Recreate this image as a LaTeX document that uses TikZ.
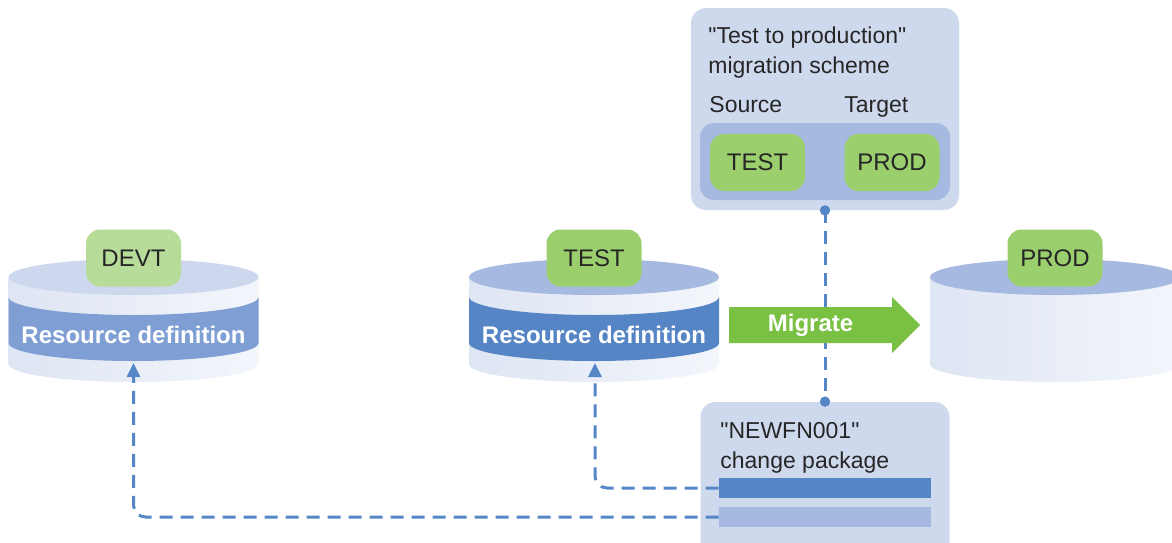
\documentclass[tikz,border=0pt]{standalone}
\usepackage{fontspec}
\setmainfont{Liberation Sans}[Ligatures=TeXOff]
\usetikzlibrary{arrows.meta}

\definecolor{panelblue}{HTML}{CFD9EE}
\definecolor{innerblue}{HTML}{A6B9E0}
\definecolor{linkblue}{HTML}{5587C6}
\definecolor{bandlight}{HTML}{7F9FD4}
\definecolor{banddark}{HTML}{5585C5}
\definecolor{toplight}{HTML}{CDD8EE}
\definecolor{tagdevt}{HTML}{B7DC99}
\definecolor{taggreen}{HTML}{9BCF6E}
\definecolor{migrategreen}{HTML}{79C043}
\definecolor{bodyleft}{HTML}{DEE5F3}
\definecolor{bodyright}{HTML}{F3F6FB}

% disk body: #1 centre x, #2 top colour
\newcommand\diskbody[2]{
  \shade[left color=bodyleft, right color=bodyright]
    (#1-125,-277) -- (#1-125,-364)
    arc[start angle=180, end angle=360, x radius=125, y radius=18]
    -- (#1+125,-277) -- cycle;
  \fill[#2] (#1,-277) ellipse [x radius=125, y radius=18];
}
% band of the disk: #1 centre x, #2 colour
\newcommand\diskband[2]{
  \fill[#2] (#1-125,-297)
    arc[start angle=180, end angle=360, x radius=125, y radius=18]
    -- (#1+125,-343)
    arc[start angle=0, end angle=-180, x radius=125, y radius=18]
    -- cycle;
}

\begin{document}
\begin{tikzpicture}[
    x=0.5pt, y=0.5pt,
    every node/.style={font=\fontsize{11.5}{15}\selectfont, text=black!85},
    panel/.style={fill=panelblue, rounded corners=7.5pt, inner sep=0pt},
    envtag/.style={fill=#1, rounded corners=7pt, minimum width=47.5pt,
                   minimum height=28.5pt, inner sep=0pt,
                   font=\fontsize{12}{15}\selectfont},
    envtag/.default=taggreen,
    bar/.style={fill=#1, minimum width=106pt, minimum height=10pt, inner sep=0pt},
    disklabel/.style={font=\fontsize{12}{15}\selectfont\bfseries, text=white},
    plain/.style={anchor=north west, inner sep=0pt, align=left},
    linkdash/.style={draw=linkblue, line width=1.5pt, dash pattern=on 6.5pt off 4pt},
    tip/.style={-{Triangle[length=7pt, width=6.5pt]}}
  ]
  \useasboundingbox (0,0) rectangle (1172,-542);

  % disks
  \diskbody{133.5}{toplight}
  \diskband{133.5}{bandlight}
  \diskbody{594}{innerblue}
  \diskband{594}{banddark}
  \diskbody{1055}{innerblue}

  \node[disklabel] (devres) at (133.5,-335) {Resource definition};
  \node[disklabel] (testres) at (594,-335) {Resource definition};

  \node[envtag=tagdevt] (devt) at (133.5,-258) {DEVT};
  \node[envtag] (test) at (594,-258) {TEST};
  \node[envtag] (prod) at (1055,-258) {PROD};

  \coordinate (devtip) at (133.5,-363);
  \coordinate (testtip) at (595,-363);

  % migration scheme
  \node[panel, minimum width=134pt, minimum height=101pt] (scheme) at (825,-109) {};
  \node[plain] (schemetext) at (708,-26) {"Test to production"\\migration scheme};
  \node[plain] (source) at (709,-96) {Source};
  \node[plain] (target) at (844,-96) {Target};
  \node[fill=innerblue, rounded corners=7pt, minimum width=125pt,
        minimum height=38.5pt, inner sep=0pt] (pair) at (825,-161.5) {};
  \node[envtag] (srctest) at (757.5,-162.5) {TEST};
  \node[envtag] (tgtprod) at (892,-162.5) {PROD};

  % change package
  \node[panel, minimum width=124.5pt, minimum height=79pt] (pkg) at (825,-481) {};
  \node[plain] (pkgtext) at (720,-422) {"NEWFN001"\\change package};
  \node[bar=banddark] (testbar) at (825,-488) {};
  \node[bar=innerblue] (devbar) at (825,-517) {};

  % links
  \draw[linkdash] (scheme.south) -- (pkg.north);
  \fill[linkblue] (scheme.south) circle (2.6pt);
  \fill[linkblue] (pkg.north) circle (2.6pt);
  \draw[linkdash, tip, rounded corners=6pt] (testbar.west) -| (testtip);
  \draw[linkdash, tip, rounded corners=6pt] (devbar.west) -| (devtip);

  % migrate arrow
  \fill[migrategreen] (729,-307) -- (892,-307) -- (892,-297) -- (920,-325)
    -- (892,-353) -- (892,-343) -- (729,-343) -- cycle;
  \node[disklabel] (migrate) at (810.5,-325.5) {Migrate};
\end{tikzpicture}
\end{document}
